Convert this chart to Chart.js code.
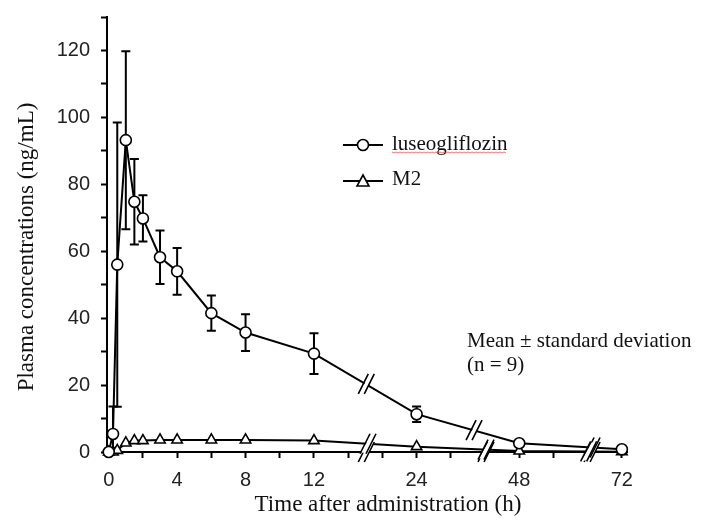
<!DOCTYPE html>
<html>
<head>
<meta charset="utf-8">
<script src="https://cdn.jsdelivr.net/npm/chart.js@4.4.0/dist/chart.umd.min.js"></script>
<style>
  html, body { margin: 0; padding: 0; background: #fff; }
  #wrap { width: 705px; height: 523px; }
</style>
</head>
<body>
<div id="wrap"><canvas id="mycanvas"></canvas></div>
<script>
// sampling times (h) and values
var timesH     = [0, 0.25, 0.5, 1, 1.5, 2, 3, 4, 6, 8, 12, 24, 48, 72];
var luseoMean  = [0, 5.4, 56, 93.2, 74.8, 69.8, 58.2, 54, 41.5, 35.7, 29.4, 11.3, 2.6, 0.8];
var luseoSD    = [0, 8.2, 42.5, 26.6, 12.8, 6.9, 8, 7, 5.3, 5.5, 6.1, 2.3, 0.7, 0.3];
var m2Mean     = [0, 0, 0.5, 2.7, 3.4, 3.4, 3.6, 3.6, 3.6, 3.6, 3.4, 1.6, 0.3, 0.1];
var xTickHours = [0, 4, 8, 12, 24, 48, 72];
var yTickLabels = [0, 20, 40, 60, 80, 100, 120];

// broken time axis: 0-12 h linear, then 12-24, 24-48, 48-72 each squeezed into 6 units
function toAxis(h) {
    if (h <= 12) return h;
    if (h <= 24) return 12 + (h - 12) / 2;
    return 18 + (h - 24) / 4;
}
function toHours(u) {
    if (u <= 12) return u;
    if (u <= 18) return 12 + (u - 12) * 2;
    return 24 + (u - 18) * 4;
}
var axisBreaks = [15, 22, 28.2];
var lineBreaks = [[15, 21.3, 28.2], [15.1, 22, 28]];

var serif = "'Liberation Serif', 'Times New Roman', serif";
var sans = "'Liberation Sans', Arial, sans-serif";

var luseoPts = timesH.map(function(t, i) { return {x: toAxis(t), y: luseoMean[i]}; });
var m2Pts = timesH.map(function(t, i) { return {x: toAxis(t), y: m2Mean[i]}; });

function drawSlashes(ctx, x, y) {
    ctx.save();
    ctx.fillStyle = '#fff';
    ctx.beginPath();
    ctx.moveTo(x - 6, y + 9); ctx.lineTo(x + 4, y - 9);
    ctx.lineTo(x + 9, y - 9); ctx.lineTo(x - 1, y + 9);
    ctx.closePath();
    ctx.fill();
    ctx.strokeStyle = '#000';
    ctx.lineWidth = 1.6;
    ctx.beginPath();
    ctx.moveTo(x - 7, y + 10); ctx.lineTo(x + 3, y - 10);
    ctx.moveTo(x - 1, y + 10); ctx.lineTo(x + 9, y - 10);
    ctx.stroke();
    ctx.restore();
}

var errorBars = {
    id: 'errorBars',
    beforeDatasetsDraw: function(chart) {
        var ctx = chart.ctx, xs = chart.scales.x, ys = chart.scales.y;
        ctx.save();
        ctx.strokeStyle = '#000';
        ctx.lineWidth = 2;
        for (var i = 0; i < timesH.length; i++) {
            if (!luseoSD[i]) continue;
            var px = xs.getPixelForValue(toAxis(timesH[i]));
            var top = ys.getPixelForValue(luseoMean[i] + luseoSD[i]);
            var bot = ys.getPixelForValue(Math.max(0, luseoMean[i] - luseoSD[i]));
            ctx.beginPath();
            ctx.moveTo(px, top); ctx.lineTo(px, bot);
            ctx.moveTo(px - 4.5, top); ctx.lineTo(px + 4.5, top);
            ctx.moveTo(px - 4.5, bot); ctx.lineTo(px + 4.5, bot);
            ctx.stroke();
        }
        ctx.restore();
    }
};

var extras = {
    id: 'extras',
    afterDraw: function(chart) {
        var ctx = chart.ctx, xs = chart.scales.x, ys = chart.scales.y;
        // break marks on the x axis
        var axisY = ys.getPixelForValue(0);
        axisBreaks.forEach(function(u) { drawSlashes(ctx, xs.getPixelForValue(u), axisY); });
        // break marks on the curves
        [0, 1].forEach(function(d) {
            var pts = chart.getDatasetMeta(d).data;
            lineBreaks[d].forEach(function(u) {
                var px = xs.getPixelForValue(u);
                for (var k = 1; k < pts.length; k++) {
                    if (pts[k].x >= px) {
                        var a = pts[k - 1], b = pts[k];
                        var f = (px - a.x) / (b.x - a.x);
                        drawSlashes(ctx, px, a.y + f * (b.y - a.y));
                        break;
                    }
                }
            });
        });

        // axis titles
        ctx.save();
        ctx.fillStyle = '#111';
        ctx.font = '23px ' + serif;
        ctx.textAlign = 'center';
        ctx.textBaseline = 'middle';
        ctx.fillText('Time after administration (h)', 388, 505);
        ctx.translate(27, 247);
        ctx.rotate(-Math.PI / 2);
        ctx.fillText('Plasma concentrations (ng/mL)', 0, 0);
        ctx.restore();

        // legend
        var ca = chart.chartArea;
        var lx = ca.left + 236, ly1 = 145, ly2 = 181;
        ctx.save();
        ctx.strokeStyle = '#000';
        ctx.lineWidth = 2;
        ctx.beginPath();
        ctx.moveTo(lx, ly1); ctx.lineTo(lx + 40, ly1);
        ctx.moveTo(lx, ly2); ctx.lineTo(lx + 40, ly2);
        ctx.stroke();
        ctx.fillStyle = '#fff';
        ctx.lineWidth = 1.6;
        ctx.beginPath();
        ctx.arc(lx + 20, ly1, 5.5, 0, Math.PI * 2);
        ctx.fill(); ctx.stroke();
        ctx.beginPath();
        ctx.moveTo(lx + 20, ly2 - 6); ctx.lineTo(lx + 26, ly2 + 5); ctx.lineTo(lx + 14, ly2 + 5);
        ctx.closePath();
        ctx.fill(); ctx.stroke();

        ctx.fillStyle = '#111';
        ctx.font = '21px ' + serif;
        ctx.textBaseline = 'middle';
        ctx.textAlign = 'left';
        ctx.fillText('luseogliflozin', lx + 49, ly1 - 1);
        ctx.fillText('M2', lx + 49, ly2 - 2);
        var w = ctx.measureText('luseogliflozin').width;
        // spell-check squiggle under the name, as in the scanned figure
        ctx.strokeStyle = 'rgba(225,70,70,0.75)';
        ctx.lineWidth = 1;
        ctx.beginPath();
        for (var s = 0; s <= w; s += 2) {
            var yy = ly1 + 7 + ((s / 2) % 2 ? 1 : 0);
            if (s === 0) ctx.moveTo(lx + 49 + s, yy); else ctx.lineTo(lx + 49 + s, yy);
        }
        ctx.stroke();

        ctx.fillStyle = '#111';
        ctx.textBaseline = 'alphabetic';
        ctx.fillText('Mean \u00b1 standard deviation', 467, 347);
        ctx.fillText('(n = 9)', 467, 371);
        ctx.restore();
    }
};

var ctx = document.getElementById('mycanvas');

var chart = new Chart(ctx, {
    type: 'line',
    data: {
        datasets: [
            {
                label: 'luseogliflozin',
                data: luseoPts,
                borderColor: '#000',
                borderWidth: 2,
                pointStyle: 'circle',
                pointRadius: 5.5,
                pointBackgroundColor: '#fff',
                pointBorderColor: '#000',
                pointBorderWidth: 1.6,
                tension: 0,
                clip: false
            },
            {
                label: 'M2',
                data: m2Pts,
                borderColor: '#000',
                borderWidth: 2,
                pointStyle: 'triangle',
                pointRadius: 6,
                pointBackgroundColor: '#fff',
                pointBorderColor: '#000',
                pointBorderWidth: 1.6,
                tension: 0,
                clip: false
            }
        ]
    },
    options: {
        responsive: true,
        maintainAspectRatio: false,
        animation: false,
        layout: { padding: { top: 17, right: 78, left: 0, bottom: 0 } },
        plugins: {
            legend: { display: false },
            tooltip: { enabled: false }
        },
        scales: {
            x: {
                type: 'linear',
                min: -0.1,
                max: 30.3,
                afterFit: function(scale) {
                    scale.height = 71;
                    scale.paddingLeft = 0;
                    scale.paddingRight = 0;
                },
                grid: { drawOnChartArea: false, drawTicks: true, tickLength: 6, tickColor: '#000', tickWidth: 2 },
                border: { display: true, color: '#000', width: 2 },
                ticks: {
                    stepSize: 2,
                    includeBounds: false,
                    autoSkip: false,
                    maxRotation: 0,
                    padding: 10,
                    color: '#222',
                    font: { family: sans, size: 20 },
                    callback: function(v) {
                        var h = toHours(v);
                        return xTickHours.indexOf(h) >= 0 ? String(h) : '';
                    }
                },
                title: { display: false }
            },
            y: {
                min: 0,
                max: 130,
                afterFit: function(scale) {
                    scale.width = 107;
                    scale.paddingTop = 0;
                    scale.paddingBottom = 0;
                },
                grid: { drawOnChartArea: false, drawTicks: true, tickLength: 6, tickColor: '#000', tickWidth: 2 },
                border: { display: true, color: '#000', width: 2 },
                ticks: {
                    stepSize: 10,
                    padding: 11,
                    color: '#222',
                    font: { family: sans, size: 20 },
                    callback: function(v) {
                        return yTickLabels.indexOf(v) >= 0 ? String(v) : '';
                    }
                },
                title: { display: false }
            }
        }
    },
    plugins: [errorBars, extras]
});
</script>
</body>
</html>
